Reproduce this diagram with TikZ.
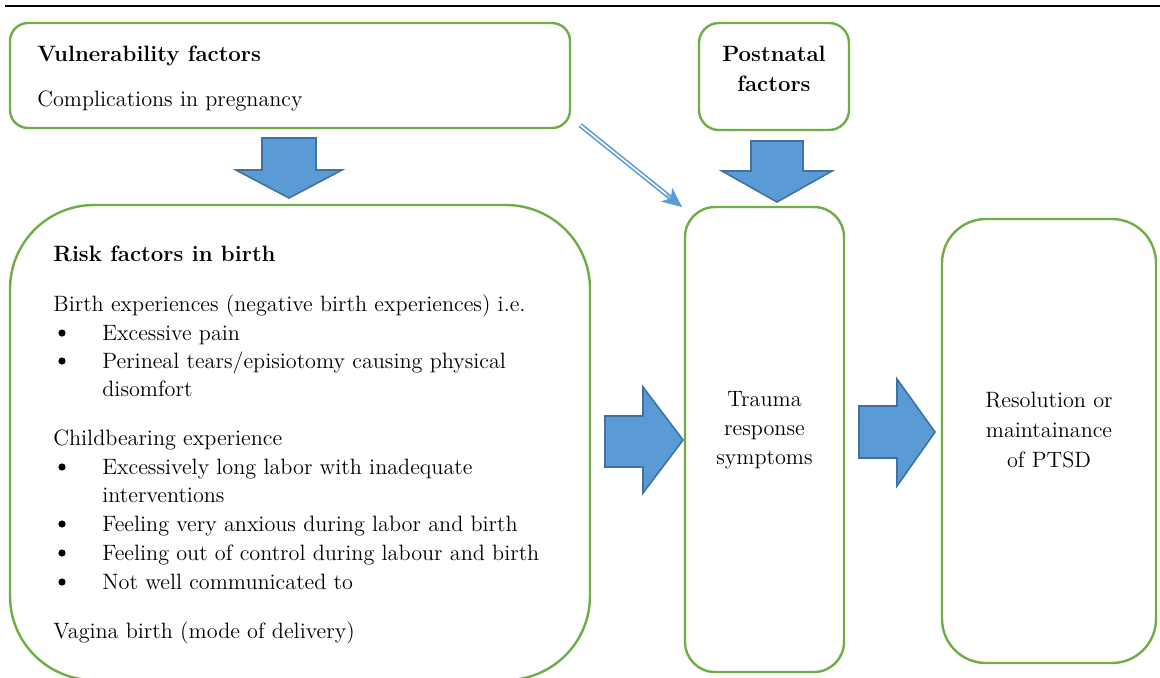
\documentclass[tikz,border=0pt]{standalone}
\usetikzlibrary{arrows.meta,calc}
\definecolor{boxgreen}{HTML}{70AD47}
\definecolor{arrfill}{HTML}{5B9BD5}
\definecolor{arrline}{HTML}{41719C}
\begin{document}
\begin{tikzpicture}[x=0.5pt,y=-0.5pt,
  gbox/.style={draw=boxgreen, line width=1.2pt, fill=white, inner sep=0pt},
  blockarrow/.style={fill=arrfill, draw=arrline, line width=0.8pt, line join=miter},
  txt/.style={anchor=base west, inner sep=0pt, font=\fontsize{11.1}{14}\selectfont},
  ctxt/.style={anchor=base, inner sep=0pt, font=\fontsize{11.1}{14}\selectfont},
  bul/.style={circle, fill=black, inner sep=0pt, minimum size=3.6pt}]
\useasboundingbox (0,0) rectangle (1160,677);
\begin{scope}
\clip (0,0) rectangle (1160,677);
% top rule
\draw[line width=1pt] (5,6) -- (1160,6);
% boxes
\node[gbox, minimum width=280pt, minimum height=52.5pt, rounded corners=9pt] (vul) at (290,75.5) {};
\node[gbox, minimum width=75pt, minimum height=53.5pt, rounded corners=10pt] (post) at (774,76.5) {};
\node[gbox, minimum width=290pt, minimum height=237.5pt, rounded corners=42pt] (risk) at (300,442.5) {};
\node[gbox, minimum width=79.5pt, minimum height=232.5pt, rounded corners=15pt] (trauma) at (764.5,439.5) {};
\node[gbox, minimum width=107pt, minimum height=222pt, rounded corners=22pt] (res) at (1049,441) {};
% block arrows
\draw[blockarrow] (262,138) -- (316,138) -- (316,170) -- (342,170) -- (289,198) -- (236,170) -- (262,170) -- cycle;
\draw[blockarrow] (751,141) -- (803,141) -- (803,171) -- (832,171) -- (777,202) -- (722,171) -- (751,171) -- cycle;
\draw[blockarrow] (605,416) -- (643,416) -- (643,387) -- (683,440) -- (643,493) -- (643,467) -- (605,467) -- cycle;
\draw[blockarrow] (859,406) -- (897,406) -- (897,379) -- (935,432) -- (897,486) -- (897,458) -- (859,458) -- cycle;
% thin double arrow
\coordinate (ds) at (580,125);
\coordinate (de) at (682,207);
\draw[arrfill, line width=0.8pt, double=white, double distance=0.8pt, shorten >=7pt] (ds) -- (de);
\draw[arrfill, line width=0.4pt, -{Stealth[length=10pt,width=9pt,inset=3pt]}] ($(de)!10pt!(ds)$) -- (de);
% texts
\node[txt] (v1) at (37,61) {\bfseries Vulnerability factors};
\node[txt] (v2) at (37,106) {Complications in pregnancy};
\node[ctxt] (p1) at (774,61) {\bfseries Postnatal};
\node[ctxt] (p2) at (774,91) {\bfseries factors};
\node[txt] (r0) at (53,261) {\bfseries Risk factors in birth};
\node[txt] (r1) at (53,311) {Birth experiences (negative birth experiences) i.e.};
\node[bul] (b1) at (62,333) {};
\node[txt] (r2) at (102,340) {Excessive pain};
\node[bul] (b2) at (62,361) {};
\node[txt] (r3) at (102,368) {Perineal tears/episiotomy causing physical};
\node[txt] (r4) at (102,396) {disomfort};
\node[txt] (r5) at (53,445) {Childbearing experience};
\node[bul] (b3) at (62,467) {};
\node[txt] (r6) at (102,474) {Excessively long labor with inadequate};
\node[txt] (r7) at (102,502) {interventions};
\node[bul] (b4) at (62,524) {};
\node[txt] (r8) at (102,531) {Feeling very anxious during labor and birth};
\node[bul] (b5) at (62,553) {};
\node[txt] (r9) at (102,560) {Feeling out of control during labour and birth};
\node[bul] (b6) at (62,582) {};
\node[txt] (r10) at (102,589) {Not well communicated to};
\node[txt] (r11) at (53,638) {Vagina birth (mode of delivery)};
\node[ctxt] (t1) at (764.5,406) {Trauma};
\node[ctxt] (t2) at (764.5,435) {response};
\node[ctxt] (t3) at (764.5,464) {symptoms};
\node[ctxt] (s1) at (1049,407) {Resolution or};
\node[ctxt] (s2) at (1049,437) {maintainance};
\node[ctxt] (s3) at (1049,467) {of PTSD};
\end{scope}
\end{tikzpicture}
\end{document}
